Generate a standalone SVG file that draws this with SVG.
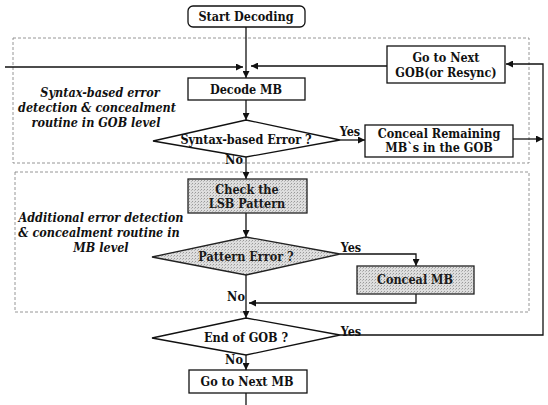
<svg xmlns="http://www.w3.org/2000/svg" width="548" height="405" viewBox="0 0 548 405">
  <style>
    text { font-family: "DejaVu Serif", "Liberation Serif", serif; font-stretch: condensed; }
    .box { fill: #ffffff; stroke: #111; stroke-width: 1.3; }
    .shade { fill: url(#halftone); stroke: #222; stroke-width: 1.3; }
    .region { fill: none; stroke: #8a8a8a; stroke-width: 0.9; stroke-dasharray: 3 2; }
    .lbl { font-size: 12.5px; font-weight: bold; fill: #111; text-anchor: middle; }
    .emb { font-size: 12.5px; font-weight: bold; fill: #1a1a1a; text-anchor: middle; }
    .note { font-size: 12.5px; font-weight: bold; font-style: italic; fill: #111; text-anchor: middle; }
    .wire { fill: none; stroke: #111; stroke-width: 1.3; }
  </style>
  <defs>
    <pattern id="halftone" width="3" height="3" patternUnits="userSpaceOnUse">
      <rect width="3" height="3" fill="#dedede"/>
      <rect x="0" y="0" width="1" height="1" fill="#9a9a9a"/>
      <rect x="2" y="1" width="1" height="1" fill="#b8b8b8"/>
    </pattern>
    <marker id="arr" viewBox="0 0 10 10" refX="10" refY="5" markerWidth="7" markerHeight="7" orient="auto" markerUnits="userSpaceOnUse">
      <path d="M0,0 L10,5 L0,10 Z" fill="#111"/>
    </marker>
  </defs>

  <!-- dotted region outlines -->
  <g id="regions">
    <rect class="region" x="13" y="38" width="516" height="125"/>
    <rect class="region" x="15" y="172" width="514" height="140"/>
  </g>

  <!-- region captions -->
  <g id="caption-gob">
    <text class="note" x="100" y="97">Syntax-based  error</text>
    <text class="note" x="97" y="112">detection &amp; concealment</text>
    <text class="note" x="96" y="127">routine in GOB level</text>
  </g>
  <g id="caption-mb">
    <text class="note" x="101" y="222">Additional error detection</text>
    <text class="note" x="99" y="237">&amp; concealment routine in</text>
    <text class="note" x="101" y="252">MB level</text>
  </g>

  <!-- connectors -->
  <g id="connectors">
    <path class="wire" d="M246,27 V78" marker-end="url(#arr)"/>
    <path class="wire" d="M5,67 H243" marker-end="url(#arr)"/>
    <path class="wire" d="M387,66 H251" marker-end="url(#arr)"/>
    <path class="wire" d="M246,100 V120" marker-end="url(#arr)"/>
    <path class="wire" d="M246,157 V179" marker-end="url(#arr)"/>
    <path class="wire" d="M340,140 H365" marker-end="url(#arr)"/>
    <path class="wire" d="M513,139 H543" marker-end="url(#arr)"/>
    <path class="wire" d="M340,335 H543 V64 H506" marker-end="url(#arr)"/>
    <path class="wire" d="M246,213 V237" marker-end="url(#arr)"/>
    <path class="wire" d="M340,254 H416 V266" marker-end="url(#arr)"/>
    <path class="wire" d="M246,275 V318" marker-end="url(#arr)"/>
    <path class="wire" d="M416,294 V303 H249" marker-end="url(#arr)"/>
    <path class="wire" d="M246,355 V370" marker-end="url(#arr)"/>
    <path class="wire" d="M246,393 V405"/>
    <text class="lbl" x="350" y="136">Yes</text>
    <text class="lbl" x="234" y="164">No</text>
    <text class="lbl" x="351" y="252">Yes</text>
    <text class="lbl" x="236" y="301">No</text>
    <text class="lbl" x="351" y="336">Yes</text>
    <text class="lbl" x="234" y="364">No</text>
  </g>

  <g id="start-decoding">
    <rect class="box" x="188" y="6" width="117" height="21" rx="5"/>
    <text class="lbl" x="246" y="21">Start Decoding</text>
  </g>

  <g id="decode-mb">
    <rect class="box" x="188" y="78" width="117" height="22"/>
    <text class="lbl" x="246" y="94">Decode MB</text>
  </g>

  <g id="next-gob">
    <rect class="box" x="387" y="46" width="118" height="37"/>
    <text class="lbl" x="446" y="62">Go to Next</text>
    <text class="lbl" x="446" y="77">GOB(or Resync)</text>
  </g>

  <g id="syntax-error">
    <polygon class="box" points="246,120 340,140 246,157 153,141"/>
    <text class="lbl" x="246" y="144">Syntax-based Error ?</text>
  </g>

  <g id="conceal-remaining">
    <rect class="box" x="365" y="125" width="148" height="32"/>
    <text class="lbl" x="439" y="138">Conceal Remaining</text>
    <text class="lbl" x="439" y="152">MB`s in the GOB</text>
  </g>

  <g id="check-lsb">
    <rect class="shade" x="188" y="179" width="119" height="34"/>
    <text class="emb" x="247" y="194">Check the</text>
    <text class="emb" x="247" y="208">LSB Pattern</text>
  </g>

  <g id="pattern-error">
    <polygon class="shade" points="246,237 340,254 246,275 152,257"/>
    <text class="emb" x="246" y="261">Pattern Error ?</text>
  </g>

  <g id="conceal-mb">
    <rect class="shade" x="357" y="266" width="117" height="28"/>
    <text class="emb" x="415" y="284">Conceal MB</text>
  </g>

  <g id="end-of-gob">
    <polygon class="box" points="246,318 340,335 246,355 152,338"/>
    <text class="lbl" x="246" y="342">End of GOB ?</text>
  </g>

  <g id="next-mb">
    <rect class="box" x="189" y="370" width="118" height="23"/>
    <text class="lbl" x="247" y="386">Go to Next MB</text>
  </g>
</svg>
